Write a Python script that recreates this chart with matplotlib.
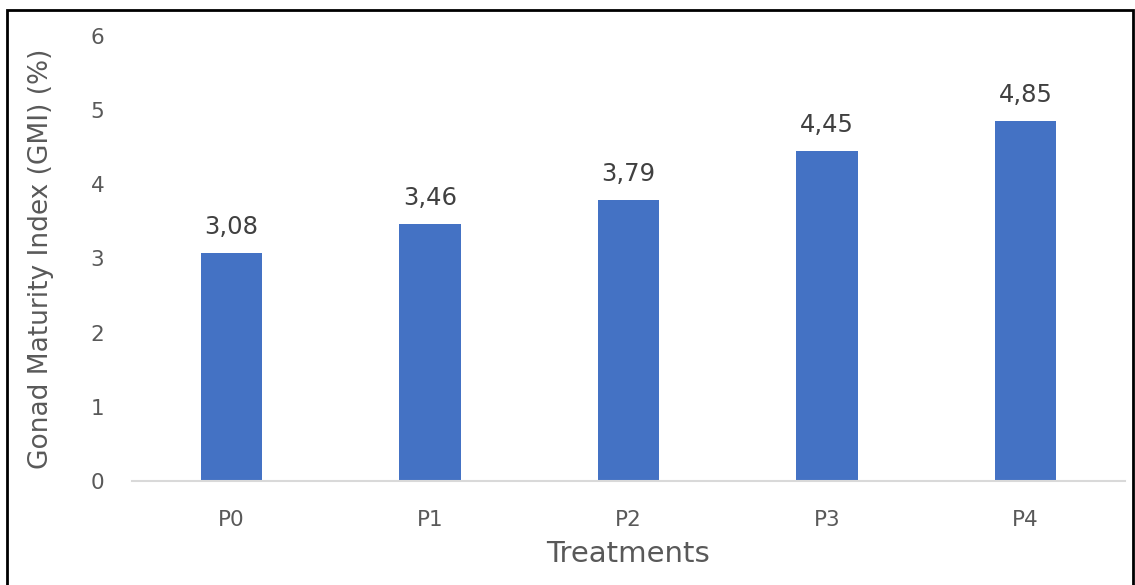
import matplotlib.pyplot as plt
from matplotlib.patches import Rectangle

treatments = ['P0', 'P1', 'P2', 'P3', 'P4']
gmi = [3.08, 3.46, 3.79, 4.45, 4.85]
y_ticks = [0, 1, 2, 3, 4, 5, 6]

bar_color = '#4472C4'
text_color = '#595959'

W, H = 1135, 585
fig = plt.figure(figsize=(W / 100, H / 100), dpi=100)
ax = fig.add_axes([132 / W, 1 - 481 / H, (1125 - 132) / W, (481 - 36) / H])

bars = ax.bar(range(len(treatments)), gmi, width=0.31, color=bar_color)
for rect, v in zip(bars, gmi):
    ax.annotate(f'{v:.2f}'.replace('.', ','),
                (rect.get_x() + rect.get_width() / 2, v),
                xytext=(0, 10), textcoords='offset points',
                ha='center', va='bottom', fontsize=17.5, color='#404040')

ax.set_xlim(-0.5, len(treatments) - 0.5)
ax.set_ylim(0, 6)
ax.set_yticks(y_ticks)
ax.set_xticks(range(len(treatments)))
ax.set_xticklabels(treatments)
ax.tick_params(axis='both', length=0, labelsize=15.5, colors=text_color)
ax.tick_params(axis='y', pad=20)
ax.tick_params(axis='x', pad=21)

for side in ['top', 'right', 'left']:
    ax.spines[side].set_visible(False)
ax.spines['bottom'].set_color('#D9D9D9')
ax.spines['bottom'].set_linewidth(1.5)

ax.set_xlabel('Treatments', fontsize=21, color=text_color, labelpad=7)
ax.set_ylabel('Gonad Maturity Index (GMI) (%)', fontsize=19, color=text_color,
              labelpad=26)

# frame around the whole figure
fig.patches.append(Rectangle((7 / W, -0.05), (1133 - 7) / W, 1.05 - 10 / H,
                             transform=fig.transFigure, fill=False,
                             edgecolor='black', linewidth=2))

fig.savefig('out.png', dpi=100)
